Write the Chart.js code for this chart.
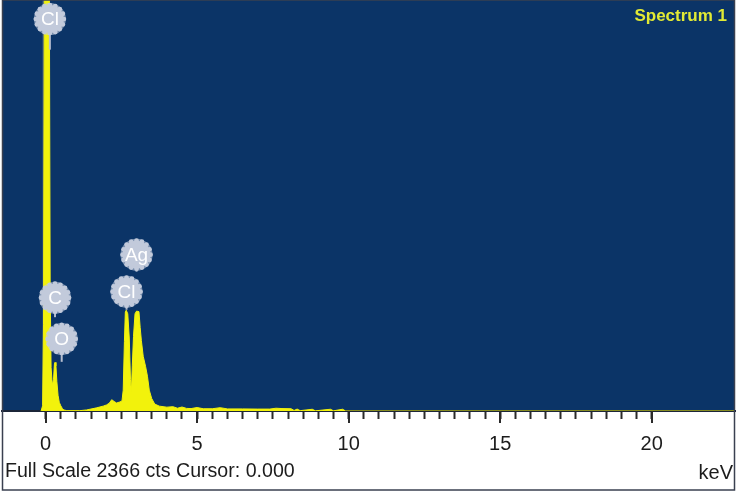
<!DOCTYPE html>
<html><head><meta charset="utf-8">
<script src="https://cdn.jsdelivr.net/npm/chart.js@4/dist/chart.umd.min.js"></script>
<style>html,body{margin:0;padding:0;background:#fff;} #wrap{width:739px;height:495px;position:relative;}</style>
</head><body><div id="wrap"><canvas id="c" width="739" height="495"></canvas></div>
<script>
// Spectrum data (keV, counts)
const energyKeV = [-0.15,-0.1,-0.07,-0.04,0.12,0.15,0.18,0.22,0.26,0.29,0.31,0.34,0.37,0.41,0.45,0.5,0.55,0.6,0.7,1.0,1.13,1.35,1.68,1.9,2.01,2.1,2.18,2.26,2.34,2.45,2.52,2.56,2.6,2.63,2.66,2.71,2.76,2.80,2.83,2.86,2.90,2.95,3.0,3.08,3.12,3.16,3.22,3.3,3.36,3.42,3.5,3.6,3.75,4.0,4.2,4.35,4.5,4.65,4.8,5.0,5.2,5.5,5.76,6.0,6.5,7.0,7.4,7.6,7.8,8.1,8.2,8.3,8.4,8.8,8.9,9.4,9.5,9.8,9.9,22.75];
const counts    = [0,30,500,2600,2600,700,250,150,180,270,280,260,170,90,50,30,15,6,2,2,2,6,18,28,35,45,65,55,46,52,58,120,400,570,580,560,420,180,110,260,430,560,575,572,480,405,315,255,200,120,72,40,28,22,25,16,23,15,14,20,13,13,19,12,12,11,11,16,14,13,3,11,2,10,1,10,1,10,0,0];
const fullScale = 2366;
const xMin = -1.44, xMax = 22.75;
const majorTicks = [0, 5, 10, 15, 20];
const minorStep = 0.5;
const tickRange = [0, 20];
// Peak labels
const peakLabels = ['Cl', 'C', 'O', 'Cl', 'Ag'];
const peakLabelKeV = [0.14, 0.31, 0.53, 2.67, 3.0];
const peakLabelCounts = [2256, 652, 415, 687, 900];
const peakStemCounts = [2080, 540, 283, 583, 802];
// marker line
const markerKeV = [-0.08, -0.08];
const markerCounts = [0, 2366];
const spectrumName = 'Spectrum 1';
const footerText = 'Full Scale 2366 cts Cursor: 0.000';
const unitText = 'keV';

const FONT = '"Liberation Sans", Arial, sans-serif';
const BLUE = '#0b3467';
const YELLOW = '#f2f20c';

const bgPlugin = {
  id: 'bg',
  beforeDraw(chart) {
    const {ctx, chartArea: a} = chart;
    ctx.save();
    ctx.fillStyle = '#ffffff';
    ctx.fillRect(0, 0, chart.width, chart.height);
    ctx.fillStyle = BLUE;
    ctx.fillRect(a.left, 0, a.right - a.left, a.bottom);
    ctx.restore();
  }
};

function bubble(ctx, x, y, r) {
  ctx.fillStyle = 'rgba(200,208,224,0.55)';
  ctx.beginPath(); ctx.arc(x, y, r + 2, 0, Math.PI * 2); ctx.fill();
  ctx.fillStyle = '#c2cadb';
  ctx.beginPath(); ctx.arc(x, y, r, 0, Math.PI * 2); ctx.fill();
  for (let i = 0; i < 16; i++) {
    const a = i * Math.PI / 8;
    ctx.beginPath(); ctx.arc(x + Math.cos(a) * r, y + Math.sin(a) * r, 2.4, 0, Math.PI * 2); ctx.fill();
  }
}

const labelPlugin = {
  id: 'labels',
  afterDatasetsDraw(chart) {
    const {ctx} = chart;
    const xs = chart.scales.x, ys = chart.scales.y;
    ctx.save();
    const r = 14;
    for (let i = 0; i < peakLabels.length; i++) {
      const px = xs.getPixelForValue(peakLabelKeV[i]);
      const py = ys.getPixelForValue(peakLabelCounts[i]);
      const sy = ys.getPixelForValue(peakStemCounts[i]);
      ctx.strokeStyle = '#b5bdcf';
      ctx.lineWidth = 2;
      ctx.beginPath(); ctx.moveTo(px, py); ctx.lineTo(px, sy); ctx.stroke();
      bubble(ctx, px, py, r);
      ctx.fillStyle = '#ffffff';
      ctx.font = '19px ' + FONT;
      ctx.textAlign = 'center';
      ctx.textBaseline = 'middle';
      ctx.fillText(peakLabels[i], px, py + 1);
    }
    ctx.restore();
  }
};

const decoPlugin = {
  id: 'deco',
  afterDraw(chart) {
    const {ctx, chartArea: a} = chart;
    const xs = chart.scales.x;
    ctx.save();
    // longer major ticks
    ctx.strokeStyle = '#2a2a2a';
    ctx.lineWidth = 2;
    majorTicks.forEach(v => {
      const px = Math.round(xs.getPixelForValue(v));
      ctx.beginPath(); ctx.moveTo(px, a.bottom); ctx.lineTo(px, a.bottom + 12); ctx.stroke();
    });
    // spectrum name
    ctx.font = 'bold 17px ' + FONT;
    ctx.fillStyle = '#e2ea34';
    ctx.textAlign = 'right';
    ctx.textBaseline = 'middle';
    ctx.fillText(spectrumName, 727, 16);
    // footer
    ctx.font = '19.6px ' + FONT;
    ctx.fillStyle = '#1c1c1c';
    ctx.textAlign = 'left';
    ctx.fillText(footerText, 5, 472);
    ctx.font = '20px ' + FONT;
    ctx.textAlign = 'right';
    ctx.fillText(unitText, 733, 473);
    // frame
    ctx.strokeStyle = '#3a4050';
    ctx.lineWidth = 1.5;
    ctx.strokeRect(a.left + 0.5, 0, (a.right - a.left) - 1, 490);
    ctx.restore();
  }
};

new Chart(document.getElementById('c'), {
  type: 'line',
  data: {
    datasets: [
      {
        label: 'marker',
        data: markerKeV.map((x, i) => ({x, y: markerCounts[i]})),
        borderColor: 'rgba(120,130,140,0.9)',
        borderWidth: 1,
        pointRadius: 0,
        fill: false,
        order: 2
      },
      {
        label: spectrumName,
        data: energyKeV.map((x, i) => ({x, y: counts[i]})),
        borderColor: YELLOW,
        backgroundColor: YELLOW,
        borderWidth: 1,
        pointRadius: 0,
        tension: 0,
        fill: 'origin',
        order: 1
      }
    ]
  },
  options: {
    responsive: false,
    animation: false,
    layout: {padding: {left: 2, right: 4, top: 0, bottom: 0}},
    plugins: {legend: {display: false}, tooltip: {enabled: false}},
    scales: {
      x: {
        type: 'linear',
        min: xMin, max: xMax,
        afterBuildTicks(scale) {
          const t = [];
          for (let v = tickRange[0]; v <= tickRange[1] + 1e-9; v += minorStep) t.push({value: Math.round(v * 10) / 10});
          scale.ticks = t;
        },
        afterFit(scale) { scale.height = 84; },
        grid: {drawOnChartArea: false, drawTicks: true, tickLength: 8, tickColor: '#2a2a2a', tickWidth: 2},
        border: {display: true, color: '#1b2538', width: 2},
        ticks: {
          autoSkip: false, maxRotation: 0, padding: 13,
          color: '#1c1c1c',
          font: {family: FONT, size: 20},
          callback: v => majorTicks.includes(v) ? String(v) : ''
        }
      },
      y: {
        type: 'linear', min: 0, max: fullScale, display: false
      }
    }
  },
  plugins: [bgPlugin, labelPlugin, decoPlugin]
});
</script></body></html>
